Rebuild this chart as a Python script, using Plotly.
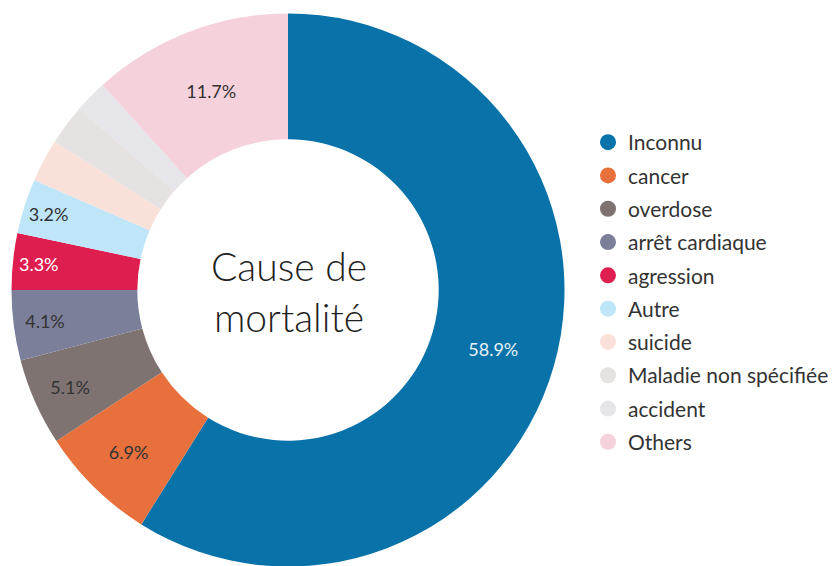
import plotly.graph_objects as go

categories = ["Inconnu", "cancer", "overdose", "arrêt cardiaque", "agression",
              "Autre", "suicide", "Maladie non spécifiée", "accident", "Others"]
values = [58.9, 6.9, 5.1, 4.1, 3.3, 3.2, 2.5, 2.4, 1.9, 11.7]
colors = ["#0872A9", "#E8703C", "#7E7370", "#7B7F9A", "#DF1E50",
          "#BEE5F8", "#F9E1DA", "#E6E2E1", "#E5E5EA", "#F5D1DC"]
show_label = [True, True, True, True, True, True, False, False, False, True]
text_colors = ["#E8F1F8", "#333333", "#333333", "#333333", "#FFFFFF",
               "#333333", "#333333", "#333333", "#333333", "#333333"]

FONT = "Lato"
W, H = 836, 566
OFF = 8  # default page body margin


def px(x):
    return (x - OFF) / W


def py(y):
    return 1 - (y - OFF) / H


fig = go.Figure()
fig.add_trace(go.Pie(
    labels=categories, values=values, sort=False, direction="clockwise", rotation=0,
    hole=0.545,
    marker=dict(colors=colors, line=dict(width=0)),
    texttemplate=["%{percent:.1%}" if s else "" for s in show_label],
    textposition="inside", insidetextorientation="horizontal",
    insidetextfont=dict(family=FONT, size=18, color=text_colors),
    showlegend=False,
    domain=dict(x=[px(11.5), px(564.5)], y=[py(566.5), py(13.5)]),
))

for i, (c, col) in enumerate(zip(categories, colors)):
    fig.add_trace(go.Scatter(
        x=[None], y=[None], mode="markers", name=c, legendgroup=f"g{i}",
        marker=dict(color=col, size=18, symbol="circle"),
        hoverinfo="skip",
    ))

fig.add_annotation(
    text="Cause de<br>mortalité", x=px(289), y=py(291), xref="paper", yref="paper",
    showarrow=False, font=dict(family=FONT, size=39, color="#222222", weight=300),
    xanchor="center", yanchor="middle",
)

fig.update_layout(
    width=W, height=H,
    margin=dict(l=0, r=0, t=0, b=0),
    paper_bgcolor="white", plot_bgcolor="white",
    xaxis=dict(visible=False), yaxis=dict(visible=False),
    legend=dict(
        x=px(588), y=py(122), xanchor="left", yanchor="top",
        font=dict(family=FONT, size=21, color="#333333"),
        itemsizing="trace", traceorder="grouped", tracegroupgap=3,
        bgcolor="rgba(0,0,0,0)",
    ),
)

fig.write_html("out.html")
